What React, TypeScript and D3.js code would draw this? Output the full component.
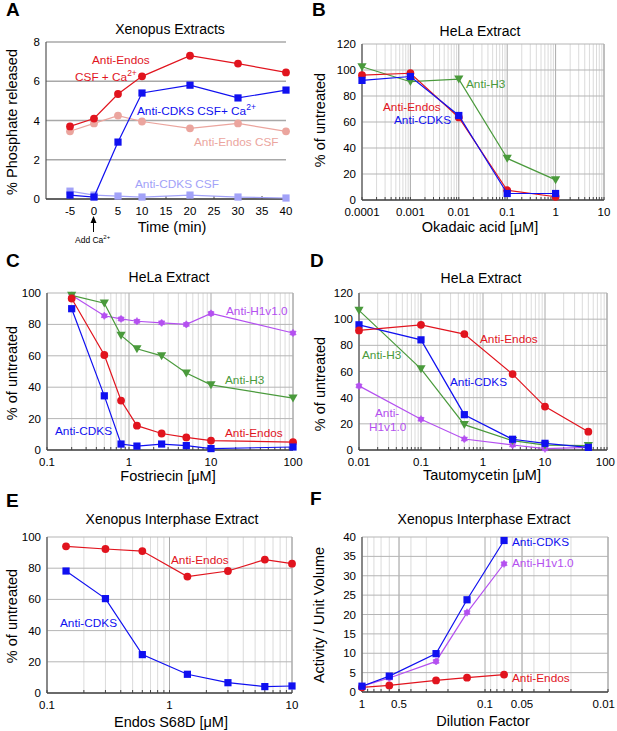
import React from "react";
import * as d3 from "d3";

// colours
const RED = "#e1141e";
const BLUE = "#1010f0";
const GREEN = "#4a9a3c";
const PURPLE = "#b450f0";
const LIGHT_RED = "#eba59e";
const LIGHT_BLUE = "#a2a2f8";
const FONT = "'Liberation Sans', Arial, Helvetica, sans-serif";

// ---- A: Xenopus extracts, time course
const aTime = [-5, 0, 5, 10, 20, 30, 40];
const aEndosCa = [3.7, 4.1, 5.35, 6.25, 7.3, 6.9, 6.45];
const aCdksCa = [0.2, 0.1, 2.9, 5.4, 5.8, 5.15, 5.55];
const aEndosCsf = [3.45, 3.85, 4.25, 3.95, 3.6, 3.85, 3.45];
const aCdksCsf = [0.4, 0.2, 0.15, 0.1, 0.2, 0.1, 0.05];
const aXTicks = [-5, 0, 5, 10, 15, 20, 25, 30, 35, 40];
const aYTicks = [0, 2, 4, 6, 8];

// ---- B: okadaic acid
const bDose = [0.0001, 0.001, 0.01, 0.1, 1];
const bEndos = [96, 97.5, 63.5, 7.5, 2.5];
const bCdks = [92, 95, 65, 5, 5];
const bH3 = [102.5, 91, 93, 32, 15.5];
const bXTicks = [0.0001, 0.001, 0.01, 0.1, 1, 10];
const bYTicks = [0, 20, 40, 60, 80, 100, 120];

// ---- C: fostriecin
const cDose = [0.2, 0.5, 0.8, 1.25, 2.5, 5, 10, 100];
const cCdks = [90, 34.5, 3.8, 2.5, 3.8, 2.8, 0.9, 1.9];
const cEndos = [96.5, 60.5, 31.5, 15.5, 10.5, 8, 6, 5];
const cH3 = [98.5, 93.5, 73, 64.5, 60, 49, 41.5, 33];
const cH1 = [98.5, 85.5, 83.5, 82, 81, 80, 87, 74.5];
const cXTicks = [0.1, 1, 10, 100];
const cYTicks = [0, 20, 40, 60, 80, 100];

// ---- D: tautomycetin
const dDose = [0.01, 0.1, 0.5, 3, 10, 50];
const dEndos = [91.4, 95.7, 88.6, 58, 33.2, 14];
const dCdks = [95.7, 84.2, 27, 8.2, 5.1, 2];
const dH3 = [106.7, 62, 19.4, 7.1, 3.8, 3.3];
const dH1 = [49, 23.5, 8.4, 3.8, 1, 2];
const dXTicks = [0.01, 0.1, 1, 10, 100];
const dYTicks = [0, 20, 40, 60, 80, 100, 120];

// ---- E: Endos S68D
const eDose = [0.143, 0.3, 0.6, 1.4, 3, 6, 10];
const eEndos = [94, 92.3, 91, 74.6, 78.2, 85.5, 82.9];
const eCdks = [78.2, 60.5, 24.6, 12, 6.6, 4.1, 4.5];
const eXTicks = [0.1, 1, 10];
const eYTicks = [0, 20, 40, 60, 80, 100];

// ---- F: dilution
const fDil = [1, 0.6, 0.25, 0.14, 0.07];
const fCdks = [1.5, 4.1, 9.9, 23.8, 39.1];
const fH1 = [1.5, 3.6, 7.9, 20.5, 33.1];
const fEndos = [1.2, 1.7, 3, 3.7, 4.5];
const fXTicks = [1, 0.5, 0.1, 0.05, 0.01];
const fYTicks = [0, 5, 10, 15, 20, 25, 30, 35, 40];

type Marker = "circle" | "square" | "tri" | "star";
type Series = { xs: number[]; ys: number[]; color: string; marker: Marker };
type Label = { text: React.ReactNode; x: number; y: number; color: string; anchor?: string };

const starPath = d3.symbol(d3.symbolAsterisk, 38)() || "";

function MarkerShape({ m, x, y, color }: { m: Marker; x: number; y: number; color: string }) {
  if (m === "circle") return <circle cx={x} cy={y} r={3.9} fill={color} />;
  if (m === "square") return <rect x={x - 3.6} y={y - 3.6} width={7.2} height={7.2} fill={color} />;
  if (m === "tri")
    return <path d={`M${x - 4.6},${y - 3.6}L${x + 4.6},${y - 3.6}L${x},${y + 4.4}Z`} fill={color} />;
  return (
    <g transform={`translate(${x},${y})`}>
      <path d={starPath} stroke={color} strokeWidth={1.5} fill="none" opacity={0.85} />
      <circle r={2.8} fill={color} />
    </g>
  );
}

type PanelProps = {
  letter: string;
  letterPos: [number, number];
  title: string;
  titlePos: [number, number];
  xLabel: React.ReactNode;
  xLabelPos: [number, number];
  yLabel: string;
  yLabelPos: [number, number];
  log: boolean;
  xDomain: [number, number];
  xRange: [number, number];
  yDomain: [number, number];
  yRange: [number, number];
  xTicks: number[];
  yTicks: number[];
  series: Series[];
  labels: Label[];
};

function fmt(v: number) {
  if (v >= 1) return String(v);
  return String(+v.toPrecision(3));
}

// keep tick labels inside the page's right edge
function clampX(px: number, label: string) {
  const w = label.split("").reduce((s, c) => s + (c === "." ? 3.2 : 6.4), 0);
  return Math.min(px, 615 - w / 2);
}

function Panel(p: PanelProps) {
  const x = p.log
    ? d3.scaleLog().domain(p.xDomain).range(p.xRange)
    : d3.scaleLinear().domain(p.xDomain).range(p.xRange);
  const y = d3.scaleLinear().domain(p.yDomain).range(p.yRange);
  const [x0, x1] = p.xRange;
  const [yb, yt] = p.yRange;

  // minor log grid values
  const minor: number[] = [];
  if (p.log) {
    const lo = Math.min(...p.xDomain);
    const hi = Math.max(...p.xDomain);
    for (let e = Math.round(Math.log10(lo)); e < Math.round(Math.log10(hi)); e++) {
      for (let k = 2; k <= 9; k++) minor.push(k * Math.pow(10, e));
    }
  }
  const line = d3
    .line<[number, number]>()
    .x((d) => x(d[0]))
    .y((d) => y(d[1]));

  return (
    <g fontFamily={FONT}>
      <text x={p.letterPos[0]} y={p.letterPos[1]} fontSize={19} fontWeight="bold">
        {p.letter}
      </text>
      <text x={p.titlePos[0]} y={p.titlePos[1]} fontSize={14} textAnchor="middle">
        {p.title}
      </text>
      {/* grid */}
      {minor.map((v) => (
        <line key={"m" + v} x1={x(v)} x2={x(v)} y1={yb} y2={yt} stroke="#d2d2d2" strokeWidth={0.8} />
      ))}
      {p.log &&
        p.xTicks.map((v) => (
          <line key={"M" + v} x1={x(v)} x2={x(v)} y1={yb} y2={yt} stroke="#aaaaaa" strokeWidth={1} />
        ))}
      {p.yTicks.map((v) => (
        <line
          key={"h" + v}
          x1={x0}
          x2={x1}
          y1={y(v)}
          y2={y(v)}
          stroke={p.log ? "#b5b5b5" : "#a8a8a8"}
          strokeWidth={p.log ? 1 : 1.3}
        />
      ))}
      {p.log && <line x1={x1} x2={x1} y1={yb} y2={yt} stroke="#aaaaaa" />}
      {/* axes */}
      <line x1={x0} x2={x0} y1={yb} y2={yt} stroke="#555" strokeWidth={1.2} />
      <line x1={x0} x2={x1} y1={yb} y2={yb} stroke="#444" strokeWidth={1.4} />
      {(p.log ? [...minor, ...p.xTicks] : p.xTicks).map((v) => (
        <line key={"t" + v} x1={x(v)} x2={x(v)} y1={yb} y2={yb - 3} stroke="#444" strokeWidth={1} />
      ))}
      {p.xTicks.map((v) => (
        <text key={"xl" + v} x={clampX(x(v), fmt(v))} y={yb + 15.5} fontSize={11.5} textAnchor="middle">
          {fmt(v)}
        </text>
      ))}
      {p.yTicks.map((v) => (
        <text key={"yl" + v} x={x0 - 6} y={y(v) + 4} fontSize={11.5} textAnchor="end">
          {v}
        </text>
      ))}
      <text x={p.xLabelPos[0]} y={p.xLabelPos[1]} fontSize={14.5} textAnchor="middle">
        {p.xLabel}
      </text>
      <text
        transform={`translate(${p.yLabelPos[0]},${p.yLabelPos[1]}) rotate(-90)`}
        fontSize={14.5}
        textAnchor="middle"
      >
        {p.yLabel}
      </text>
      {/* series */}
      {p.series.map((s, i) => (
        <g key={"s" + i}>
          <path
            d={line(s.xs.map((v, j) => [v, s.ys[j]] as [number, number])) || ""}
            fill="none"
            stroke={s.color}
            strokeWidth={1.2}
          />
          {s.xs.map((v, j) => (
            <MarkerShape key={j} m={s.marker} x={x(v)} y={y(s.ys[j])} color={s.color} />
          ))}
        </g>
      ))}
      {p.labels.map((l, i) => (
        <text key={"l" + i} x={l.x} y={l.y} fill={l.color} fontSize={11.8} textAnchor={l.anchor || "start"}>
          {l.text}
        </text>
      ))}
    </g>
  );
}

const sup = (t: string) => (
  <tspan dy={-5} fontSize={8.5}>
    {t}
  </tspan>
);
const mu = "[\u03bcM]";

export default function App() {
  return (
    <svg
      width={617}
      height={731}
      style={{ position: "absolute", left: 0, top: 0, background: "#fff" }}
    >
      <rect width={617} height={731} fill="#fff" />
      <Panel
        letter="A"
        letterPos={[6, 16]}
        title="Xenopus Extracts"
        titlePos={[170, 34]}
        xLabel="Time (min)"
        xLabelPos={[172, 232]}
        yLabel="% Phosphate released"
        yLabelPos={[17, 122]}
        log={false}
        xDomain={[-10, 40]}
        xRange={[46, 286]}
        yDomain={[0, 8]}
        yRange={[199, 42]}
        xTicks={aXTicks}
        yTicks={aYTicks}
        series={[
          { xs: aTime, ys: aEndosCsf, color: LIGHT_RED, marker: "circle" },
          { xs: aTime, ys: aCdksCsf, color: LIGHT_BLUE, marker: "square" },
          { xs: aTime, ys: aEndosCa, color: RED, marker: "circle" },
          { xs: aTime, ys: aCdksCa, color: BLUE, marker: "square" },
        ]}
        labels={[
          { text: "Anti-Endos", x: 92, y: 64, color: RED },
          { text: <>CSF + Ca{sup("2+")}</>, x: 75, y: 81, color: RED },
          { text: <>Anti-CDKS CSF+ Ca{sup("2+")}</>, x: 137, y: 115, color: BLUE },
          { text: "Anti-Endos CSF", x: 194, y: 146, color: LIGHT_RED },
          { text: "Anti-CDKS CSF", x: 135, y: 188, color: LIGHT_BLUE },
        ]}
      />
      {/* add Ca2+ marker under panel A */}
      <g fontFamily={FONT}>
        <line x1={93.5} x2={93.5} y1={232} y2={221} stroke="#000" strokeWidth={1} />
        <path d="M90.5,223 L93.5,216 L96.5,223 Z" fill="#000" />
        <text x={75} y={243} fontSize={8.5}>
          Add Ca<tspan dy={-4} fontSize={6}>2+</tspan>
        </text>
      </g>
      <Panel
        letter="B"
        letterPos={[312, 16]}
        title="HeLa Extract"
        titlePos={[480, 36]}
        xLabel={`Okadaic acid ${mu}`}
        xLabelPos={[480, 232]}
        yLabel="% of untreated"
        yLabelPos={[325, 120]}
        log={true}
        xDomain={[0.0001, 10]}
        xRange={[362, 604]}
        yDomain={[0, 120]}
        yRange={[200, 44]}
        xTicks={bXTicks}
        yTicks={bYTicks}
        series={[
          { xs: bDose, ys: bH3, color: GREEN, marker: "tri" },
          { xs: bDose, ys: bEndos, color: RED, marker: "circle" },
          { xs: bDose, ys: bCdks, color: BLUE, marker: "square" },
        ]}
        labels={[
          { text: "Anti-H3", x: 466, y: 88, color: GREEN },
          { text: "Anti-Endos", x: 383, y: 111, color: RED },
          { text: "Anti-CDKS", x: 394, y: 123.5, color: BLUE },
        ]}
      />
      <Panel
        letter="C"
        letterPos={[6, 267]}
        title="HeLa Extract"
        titlePos={[169, 282]}
        xLabel={`Fostriecin ${mu}`}
        xLabelPos={[168, 481]}
        yLabel="% of untreated"
        yLabelPos={[17, 373]}
        log={true}
        xDomain={[0.1, 100]}
        xRange={[47, 293]}
        yDomain={[0, 100]}
        yRange={[450, 293]}
        xTicks={cXTicks}
        yTicks={cYTicks}
        series={[
          { xs: cDose, ys: cH1, color: PURPLE, marker: "star" },
          { xs: cDose, ys: cH3, color: GREEN, marker: "tri" },
          { xs: cDose, ys: cEndos, color: RED, marker: "circle" },
          { xs: cDose, ys: cCdks, color: BLUE, marker: "square" },
        ]}
        labels={[
          { text: "Anti-H1v1.0", x: 226, y: 315, color: PURPLE },
          { text: "Anti-H3", x: 225, y: 384, color: GREEN },
          { text: "Anti-Endos", x: 225, y: 437, color: RED },
          { text: "Anti-CDKS", x: 55, y: 435, color: BLUE },
        ]}
      />
      <Panel
        letter="D"
        letterPos={[310, 267]}
        title="HeLa Extract"
        titlePos={[481, 283]}
        xLabel={`Tautomycetin ${mu}`}
        xLabelPos={[482, 480]}
        yLabel="% of untreated"
        yLabelPos={[325, 384]}
        log={true}
        xDomain={[0.01, 100]}
        xRange={[359, 607]}
        yDomain={[0, 120]}
        yRange={[450, 293]}
        xTicks={dXTicks}
        yTicks={dYTicks}
        series={[
          { xs: dDose, ys: dH1, color: PURPLE, marker: "star" },
          { xs: dDose, ys: dH3, color: GREEN, marker: "tri" },
          { xs: dDose, ys: dCdks, color: BLUE, marker: "square" },
          { xs: dDose, ys: dEndos, color: RED, marker: "circle" },
        ]}
        labels={[
          { text: "Anti-Endos", x: 480, y: 343, color: RED },
          { text: "Anti-H3", x: 362, y: 359, color: GREEN },
          { text: "Anti-CDKS", x: 450, y: 386, color: BLUE },
          { text: "Anti-", x: 375, y: 417, color: PURPLE },
          { text: "H1v1.0", x: 369, y: 431, color: PURPLE },
        ]}
      />
      <Panel
        letter="E"
        letterPos={[6, 507]}
        title="Xenopus Interphase Extract"
        titlePos={[172, 524]}
        xLabel={`Endos S68D ${mu}`}
        xLabelPos={[171, 727]}
        yLabel="% of untreated"
        yLabelPos={[17, 616]}
        log={true}
        xDomain={[0.1, 10]}
        xRange={[47, 292]}
        yDomain={[0, 100]}
        yRange={[693, 537]}
        xTicks={eXTicks}
        yTicks={eYTicks}
        series={[
          { xs: eDose, ys: eEndos, color: RED, marker: "circle" },
          { xs: eDose, ys: eCdks, color: BLUE, marker: "square" },
        ]}
        labels={[
          { text: "Anti-Endos", x: 171, y: 564, color: RED },
          { text: "Anti-CDKS", x: 60, y: 627, color: BLUE },
        ]}
      />
      <Panel
        letter="F"
        letterPos={[310, 505]}
        title="Xenopus Interphase Extract"
        titlePos={[484, 524]}
        xLabel="Dilution Factor"
        xLabelPos={[483, 726]}
        yLabel="Activity / Unit Volume"
        yLabelPos={[324, 615]}
        log={true}
        xDomain={[1, 0.01]}
        xRange={[362, 608]}
        yDomain={[0, 40]}
        yRange={[692, 537]}
        xTicks={fXTicks}
        yTicks={fYTicks}
        series={[
          { xs: fDil, ys: fEndos, color: RED, marker: "circle" },
          { xs: fDil, ys: fH1, color: PURPLE, marker: "star" },
          { xs: fDil, ys: fCdks, color: BLUE, marker: "square" },
        ]}
        labels={[
          { text: "Anti-CDKS", x: 512, y: 546, color: BLUE },
          { text: "Anti-H1v1.0", x: 512, y: 567, color: PURPLE },
          { text: "Anti-Endos", x: 512, y: 682, color: RED },
        ]}
      />
    </svg>
  );
}
